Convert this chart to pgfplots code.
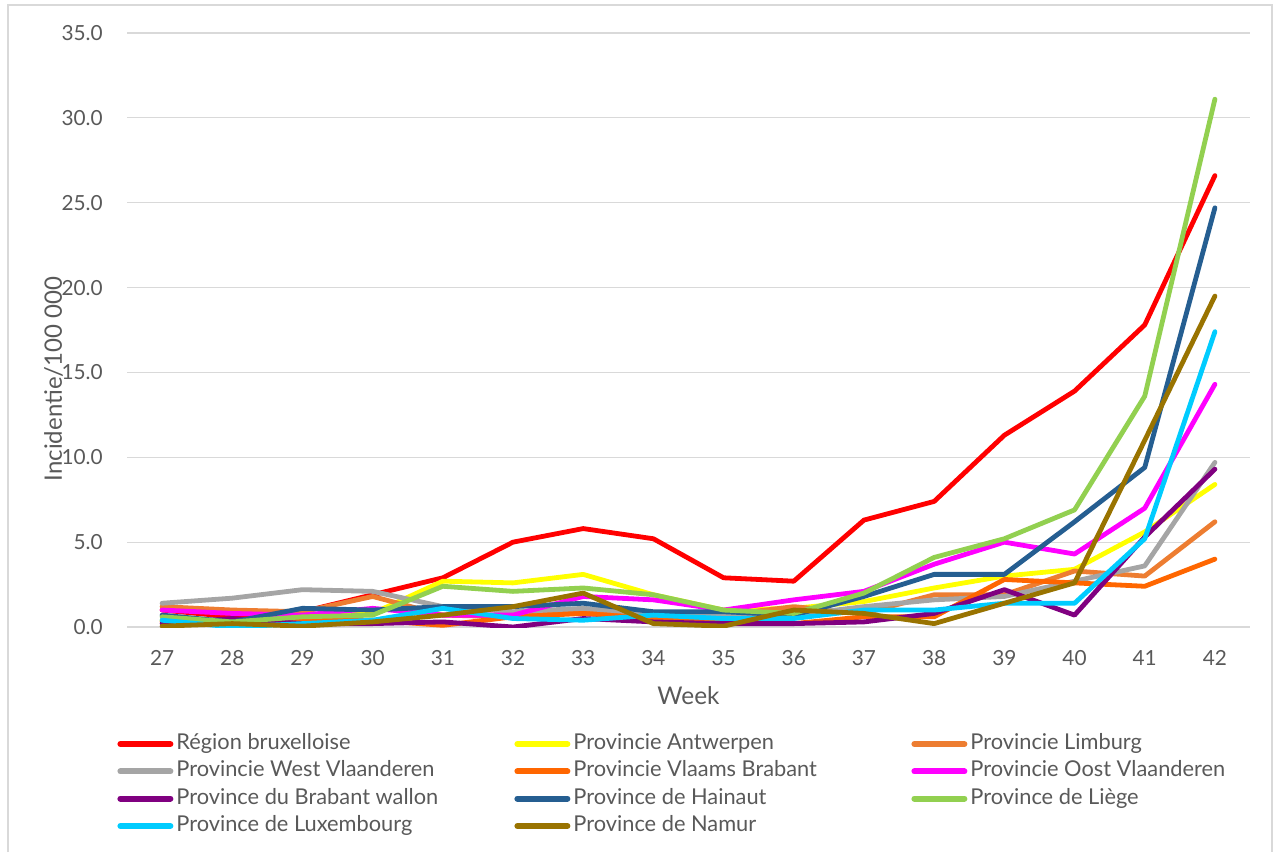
\documentclass[border=0pt]{standalone}
\usepackage{pgfplots}
\usepackage{pgfplotstable}
\pgfplotsset{compat=1.18}
\usepackage{fontspec}
\setmainfont{Lato}
\definecolor{cbru}{HTML}{FF0000}
\definecolor{cant}{HTML}{FFFF00}
\definecolor{clim}{HTML}{ED7D31}
\definecolor{cwvl}{HTML}{A5A5A5}
\definecolor{cvbr}{HTML}{FF6600}
\definecolor{covl}{HTML}{FF00FF}
\definecolor{cbwa}{HTML}{800080}
\definecolor{chai}{HTML}{255E91}
\definecolor{clie}{HTML}{92D050}
\definecolor{clux}{HTML}{00CCFF}
\definecolor{cnam}{HTML}{997300}
\definecolor{txt}{HTML}{595959}
\definecolor{grd}{HTML}{D9D9D9}
\pgfplotstableread{
week bru ant lim wvl vbr ovl bwa hai lie lux nam
27 1.0 0.4 1.2 1.4 0.3 1.0 0.2 0.7 0.6 0.4 0.05
28 0.6 0.3 1.0 1.7 0.2 0.8 0.5 0.3 0.3 0.0 0.2
29 0.9 0.7 0.9 2.2 0.4 0.7 0.2 1.1 0.6 0.2 0.05
30 1.9 0.8 1.8 2.1 0.4 1.1 0.2 1.0 0.7 0.4 0.3
31 2.9 2.7 0.7 1.2 0.1 0.7 0.3 1.2 2.4 1.1 0.7
32 5.0 2.6 0.6 0.9 0.6 0.7 0.0 1.2 2.1 0.5 1.2
33 5.8 3.1 0.9 1.1 0.8 1.8 0.5 1.4 2.3 0.4 2.0
34 5.2 1.9 0.6 0.8 0.5 1.6 0.3 0.9 1.9 0.7 0.2
35 2.9 1.0 0.7 0.7 0.5 1.0 0.2 0.9 1.0 0.5 0.05
36 2.7 1.1 1.2 0.7 0.2 1.6 0.2 0.7 0.8 0.5 1.0
37 6.3 1.5 0.8 1.2 0.6 2.1 0.3 1.8 2.0 1.0 0.8
38 7.4 2.3 1.9 1.6 0.6 3.7 0.8 3.1 4.1 1.0 0.2
39 11.3 3.0 1.9 1.8 2.8 5.0 2.2 3.1 5.2 1.4 1.4
40 13.9 3.4 3.3 2.7 2.6 4.3 0.7 6.2 6.9 1.4 2.6
41 17.8 5.6 3.0 3.6 2.4 7.0 5.3 9.4 13.6 5.2 11.0
42 26.6 8.4 6.2 9.7 4.0 14.3 9.3 24.7 31.1 17.4 19.5
}\data
\newcommand{\legent}[1]{\addlegendentry{\makebox[169pt][l]{#1}}}
\begin{document}
\begin{tikzpicture}
\path[use as bounding box] (0pt,0pt) rectangle (639pt,426pt);
\draw[grd, line width=0.6pt] (4pt,0pt) -- (4pt,423.5pt) -- (636pt,423.5pt) -- (636pt,0pt);
\begin{axis}[
  at={(63.5pt,112.5pt)}, anchor=south west,
  scale only axis, width=561.5pt, height=297pt,
  xmin=26.5, xmax=42.5, ymin=0, ymax=35,
  xtick={27,...,42}, ytick={0,5,...,35},
  axis line style={draw=none}, tick style={draw=none},
  ymajorgrids, grid style={grd, line width=0.6pt},
  /pgf/number format/assume math mode=true,
  yticklabel={\pgfmathprintnumber[fixed,fixed zerofill,precision=1]{\tick}},
  xticklabel={\pgfmathprintnumber[int detect]{\tick}},
  ticklabel style={font=\fontsize{10.4}{12}\selectfont, text=txt},
  yticklabel style={inner sep=0pt, anchor=east, xshift=-12pt},
  xticklabel style={inner sep=0pt, anchor=north, yshift=-11.5pt},
  xlabel={Week}, ylabel={Incidentie/100 000},
  xlabel style={at={(axis description cs:0.5,0)}, anchor=base, yshift=-38.5pt, font=\fontsize{12.2}{14}\selectfont, text=txt},
  ylabel style={at={(axis description cs:0,0.4175)}, anchor=base, yshift=32.5pt, font=\fontsize{12}{14}\selectfont, text=txt},
  every axis plot/.append style={line width=2.4pt, line join=round, line cap=round},
  legend columns=3,
  legend cell align=left,
  legend image code/.code={\draw[#1, line width=3pt, line cap=round] (1.5pt,0pt) -- (26.5pt,0pt);},
  legend style={draw=none, fill=none, at={(axis description cs:0,0)}, anchor=north west,
    xshift=-5pt, yshift=-51.5pt, inner sep=0pt, row sep=0pt,
    nodes={inner sep=0pt, text height=9.5pt, text depth=4.15pt, anchor=west, font=\fontsize{10.9}{12}\selectfont, text=txt},
    /tikz/every odd column/.style={column sep=1.5pt}},
]
\addplot[cbru] table[x=week,y=bru]{\data}; \legent{Région bruxelloise}
\addplot[cant] table[x=week,y=ant]{\data}; \legent{Provincie Antwerpen}
\addplot[clim] table[x=week,y=lim]{\data}; \legent{Provincie Limburg}
\addplot[cwvl] table[x=week,y=wvl]{\data}; \legent{Provincie West Vlaanderen}
\addplot[cvbr] table[x=week,y=vbr]{\data}; \legent{Provincie Vlaams Brabant}
\addplot[covl] table[x=week,y=ovl]{\data}; \legent{Provincie Oost Vlaanderen}
\addplot[cbwa] table[x=week,y=bwa]{\data}; \legent{Province du Brabant wallon}
\addplot[chai] table[x=week,y=hai]{\data}; \legent{Province de Hainaut}
\addplot[clie] table[x=week,y=lie]{\data}; \legent{Province de Liège}
\addplot[clux] table[x=week,y=lux]{\data}; \legent{Province de Luxembourg}
\addplot[cnam] table[x=week,y=nam]{\data}; \legent{Province de Namur}
\end{axis}
\end{tikzpicture}
\end{document}
